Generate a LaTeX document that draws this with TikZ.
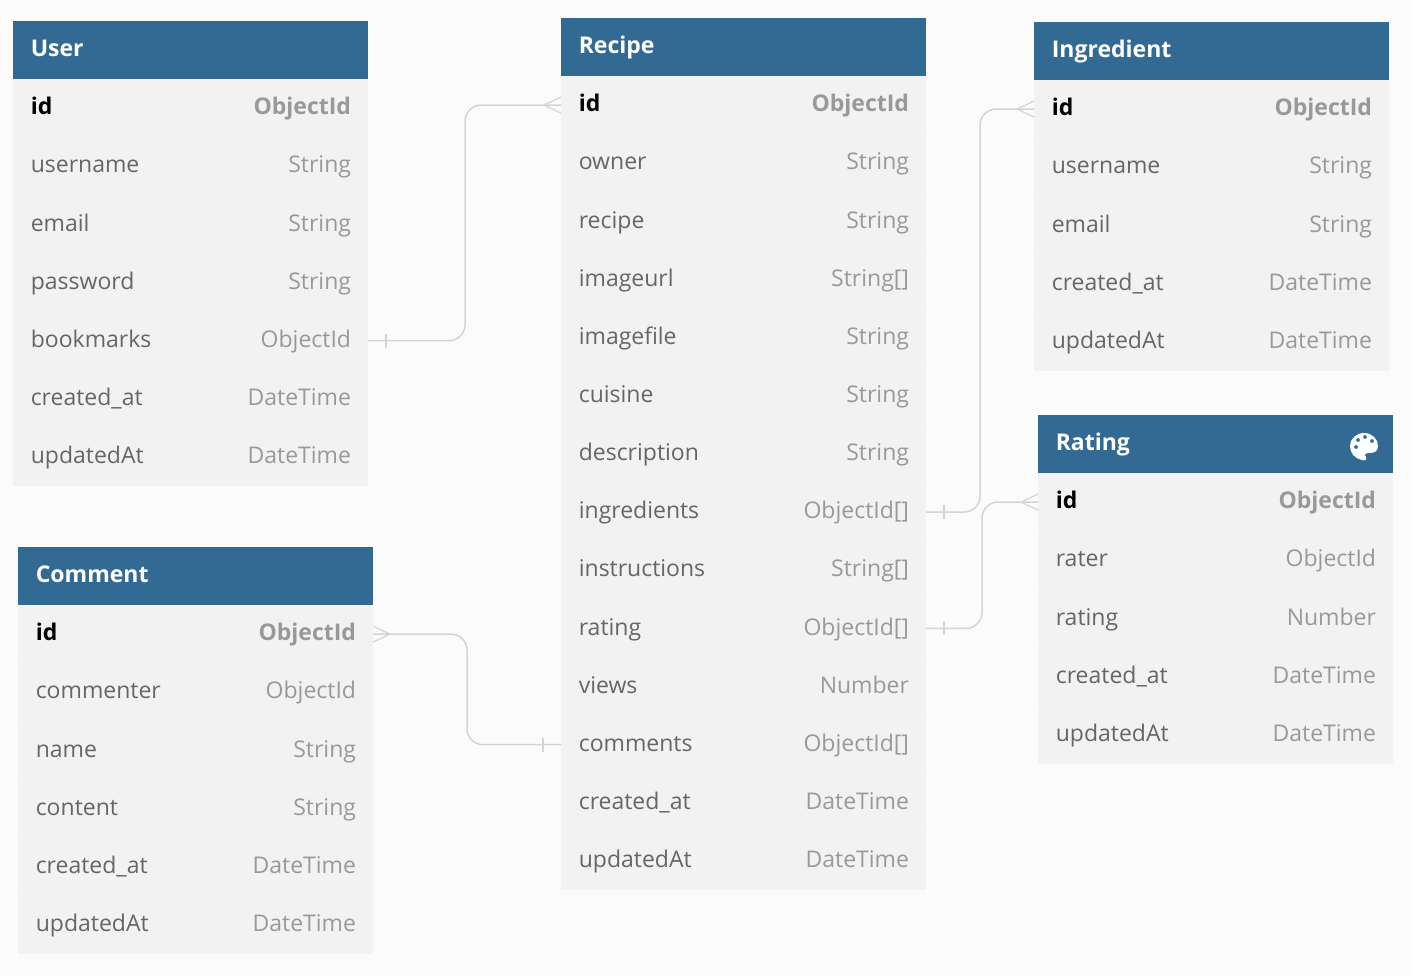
\documentclass[tikz,border=0pt]{standalone}
\usepackage{fontspec}
\setmainfont{Open Sans}
\usetikzlibrary{positioning}
\definecolor{headblue}{HTML}{336A94}
\definecolor{rowgray}{HTML}{F2F2F2}
\definecolor{pagegray}{HTML}{FBFBFB}
\definecolor{namegray}{HTML}{666666}
\definecolor{typegray}{HTML}{999999}
\definecolor{linkgray}{HTML}{D4D4D4}
\tikzset{
  tablehead/.style={fill=headblue, minimum height=29pt, inner sep=0pt, outer sep=0pt, anchor=north west},
  tablerow/.style={fill=rowgray, minimum height=29.07pt, inner sep=0pt, outer sep=0pt},
  headtext/.style={text=white, font=\fontsize{11.5}{12}\selectfont\bfseries, inner sep=0pt, anchor=base west},
  fieldname/.style={text=namegray, font=\fontsize{11.5}{12}\selectfont, inner sep=0pt, anchor=base west},
  fieldtype/.style={text=typegray, font=\fontsize{11.5}{12}\selectfont, inner sep=0pt, anchor=base east},
  idname/.style={fieldname, text=black, font=\fontsize{11.5}{12}\selectfont\bfseries},
  idtype/.style={fieldtype, font=\fontsize{11.5}{12}\selectfont\bfseries},
  link/.style={linkgray, line width=0.75pt, rounded corners=8pt},
  mark line/.style={linkgray, line width=0.6pt}
}
% width, name, left, top, fields
\newcommand{\dbtable}[5][177.5pt]{
  \node[tablehead, minimum width=#1] (#2) at (#3,#4) {};
  \node[headtext] (#2-title) at ([xshift=8.7pt,yshift=-3.35pt]#2.west) {#2};
  \node[tablerow, minimum width=#1, anchor=north west] (#2-1) at (#2.south west) {};
  \node[idname] (#2-1-name) at ([xshift=8.7pt,yshift=-3.35pt]#2-1.west) {id};
  \node[idtype] (#2-1-type) at ([xshift=-8.3pt,yshift=-3.35pt]#2-1.east) {ObjectId};
  \foreach \fname/\ftype [count=\i from 2] in {#5} {
    \pgfmathtruncatemacro{\j}{\i-1}
    \node[tablerow, minimum width=#1, below=0pt of #2-\j] (#2-\i) {};
    \draw[white!25!rowgray, line width=0.4pt] (#2-\i.north west) -- (#2-\i.north east);
    \node[fieldname] (#2-\i-name) at ([xshift=8.7pt,yshift=-3.35pt]#2-\i.west) {\fname};
    \node[fieldtype] (#2-\i-type) at ([xshift=-8.3pt,yshift=-3.35pt]#2-\i.east) {\ftype};
  }
}
\begin{document}
\begin{tikzpicture}[x=0.5pt,y=-0.5pt]
  \fill[pagegray] (0,0) rectangle (1412,976);
  \useasboundingbox (0,0) rectangle (1412,976);

  \dbtable{User}{13}{21}{username/String, email/String, password/String, bookmarks/ObjectId, created\_at/DateTime, updatedAt/DateTime}
  \dbtable[182.5pt]{Recipe}{561}{18}{owner/String, recipe/String, imageurl/String[], imagefile/String, cuisine/String, description/String, ingredients/ObjectId[], instructions/String[], rating/ObjectId[], views/Number, comments/ObjectId[], created\_at/DateTime, updatedAt/DateTime}
  \dbtable{Ingredient}{1034}{22}{username/String, email/String, created\_at/DateTime, updatedAt/DateTime}
  \dbtable{Rating}{1038}{415}{rater/ObjectId, rating/Number, created\_at/DateTime, updatedAt/DateTime}
  \dbtable{Comment}{18}{547}{commenter/ObjectId, name/String, content/String, created\_at/DateTime, updatedAt/DateTime}

  % palette on the Rating head
  \fill[white, even odd rule] (1364,433) .. controls (1372,433) and (1378,439) .. (1378,446)
    .. controls (1378,452) and (1373,453) .. (1369,453)
    .. controls (1365,453) and (1364,455) .. (1366,457)
    .. controls (1367,460) and (1365,461) .. (1362,460)
    .. controls (1355,459) and (1350,453) .. (1350,446)
    .. controls (1350,439) and (1356,433) .. (1364,433) -- cycle
    (1356,447) circle (2) (1358,440) circle (2) (1365,437) circle (2) (1372,441) circle (2);

  % connector bends
  \coordinate (bendUser) at (465,222);
  \coordinate (bendComment) at (467,690);
  \coordinate (bendIngredient) at (980,310);
  \coordinate (bendRating) at (982,565);

  \draw[link] (User-5.east) -| (bendUser) |- (Recipe-1.west);
  \draw[link] (Comment-1.east) -| (bendComment) |- (Recipe-12.west);
  \draw[link] (Recipe-8.east) -| (bendIngredient) |- (Ingredient-1.west);
  \draw[link] (Recipe-10.east) -| (bendRating) |- (Rating-1.west);

  % one side
  \draw[mark line] ([xshift=9pt,yshift=3.5pt]User-5.east) -- ([xshift=9pt,yshift=-3.5pt]User-5.east);
  \draw[mark line] ([xshift=-9pt,yshift=3.5pt]Recipe-12.west) -- ([xshift=-9pt,yshift=-3.5pt]Recipe-12.west);
  \draw[mark line] ([xshift=9pt,yshift=3.5pt]Recipe-8.east) -- ([xshift=9pt,yshift=-3.5pt]Recipe-8.east);
  \draw[mark line] ([xshift=9pt,yshift=3.5pt]Recipe-10.east) -- ([xshift=9pt,yshift=-3.5pt]Recipe-10.east);

  % many side
  \draw[mark line] ([yshift=4pt]Recipe-1.west) -- ([xshift=-8.5pt]Recipe-1.west) -- ([yshift=-4pt]Recipe-1.west);
  \draw[mark line] ([yshift=4pt]Comment-1.east) -- ([xshift=8.5pt]Comment-1.east) -- ([yshift=-4pt]Comment-1.east);
  \draw[mark line] ([yshift=4pt]Ingredient-1.west) -- ([xshift=-8.5pt]Ingredient-1.west) -- ([yshift=-4pt]Ingredient-1.west);
  \draw[mark line] ([yshift=4pt]Rating-1.west) -- ([xshift=-8.5pt]Rating-1.west) -- ([yshift=-4pt]Rating-1.west);
\end{tikzpicture}
\end{document}
